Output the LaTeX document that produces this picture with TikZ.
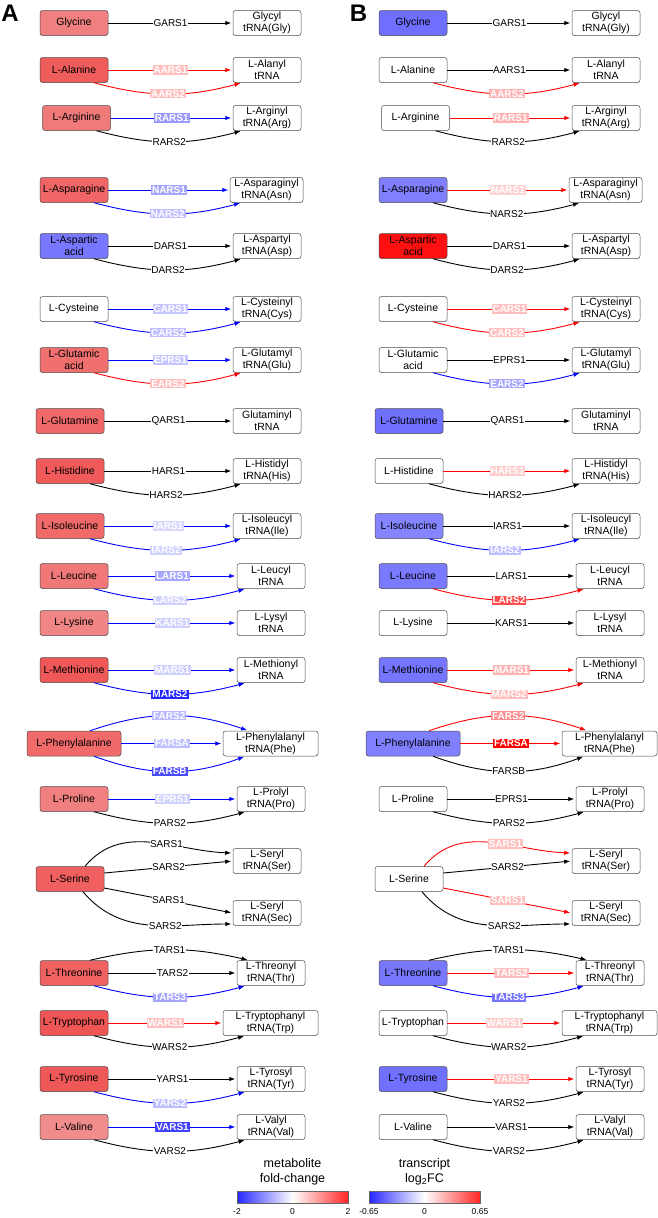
\documentclass[tikz,border=0pt]{standalone}
\usepackage{fontspec}
\setmainfont{Liberation Sans}
\usetikzlibrary{arrows.meta}
\newcommand\boxfont{\fontsize{10.5}{12}\selectfont}
\newcommand\lblfont{\fontsize{10}{11}\selectfont}
\newcommand\legfont{\fontsize{12.5}{15}\selectfont}
\newcommand\tickfont{\fontsize{8.5}{9}\selectfont}
\definecolor{cGlyA}{HTML}{F08080}
\definecolor{cAlaA}{HTML}{EE5C5C}
\definecolor{cArgA}{HTML}{F07A7A}
\definecolor{cAsnA}{HTML}{F06666}
\definecolor{cAspA}{HTML}{7777FF}
\definecolor{cGluA}{HTML}{F07070}
\definecolor{cGlnA}{HTML}{F06868}
\definecolor{cHisA}{HTML}{F05A5A}
\definecolor{cIleA}{HTML}{F06A6A}
\definecolor{cLeuA}{HTML}{F07878}
\definecolor{cLysA}{HTML}{F08585}
\definecolor{cMetA}{HTML}{EE5858}
\definecolor{cPheA}{HTML}{F06A6A}
\definecolor{cProA}{HTML}{F08080}
\definecolor{cSerA}{HTML}{F06060}
\definecolor{cThrA}{HTML}{F06262}
\definecolor{cTrpA}{HTML}{EE5555}
\definecolor{cTyrA}{HTML}{EE5858}
\definecolor{cValA}{HTML}{F08C8C}
\definecolor{cGlyB}{HTML}{6E6EFF}
\definecolor{cAsnB}{HTML}{8080FF}
\definecolor{cAspB}{HTML}{FF1010}
\definecolor{cGlnB}{HTML}{7070FF}
\definecolor{cIleB}{HTML}{8585FF}
\definecolor{cLeuB}{HTML}{7A7AFF}
\definecolor{cMetB}{HTML}{7575FF}
\definecolor{cPheB}{HTML}{8080FF}
\definecolor{cThrB}{HTML}{7878FF}
\definecolor{cTyrB}{HTML}{7070FF}
% straight edge: src, tgt, edge style, label style, text
\newcommand\EdgeS[5]{\draw[#3] (#1.east) -- node[#4]{#5} (#2.west);}
% lower curved edge
\newcommand\EdgeD[6]{\draw[#3] ([xshift=20pt]#1.south) to[bend right=#6] node[#4]{#5} ([xshift=-25pt]#2.south);}
% upper curved edge
\newcommand\EdgeU[6]{\draw[#3] ([xshift=16pt]#1.north) to[bend left=#6] node[#4]{#5} ([xshift=-22pt]#2.north);}
\begin{document}
\begin{tikzpicture}[x=1pt,y=-1pt,
  box/.style={draw=black!70, line width=0.5pt, rounded corners=2.5pt, minimum height=25pt, minimum width=68pt, inner sep=1pt, align=center, font=\boxfont, fill=white},
  ek/.style={draw=black, line width=0.9pt, -{Latex[length=6pt,width=4.5pt]}, shorten >=1.5pt},
  er/.style={ek, draw=red},
  eb/.style={ek, draw=blue},
  ln/.style={fill=white, inner xsep=0.5pt, inner ysep=0.8pt, font=\lblfont, text=black},
  lc/.style={fill=#1, inner xsep=1pt, inner ysep=1pt, font=\lblfont\bfseries, text=white},
  panel/.style={font=\fontsize{24}{24}\selectfont\bfseries},
  leg/.style={font=\legfont, align=center},
  cbar/.style={draw=black!60, line width=0.4pt, minimum width=111pt, minimum height=12pt, inner sep=0pt,
      left color=blue!85!white, right color=red!85!white, middle color=white},
  tick/.style={font=\tickfont}]
\useasboundingbox (0,0) rectangle (658,1218);

\node[panel] (pA) at (10,13) {A};
\node[panel] (pB) at (358.5,13) {B};

% ================= PANEL A =================
\node[box,fill=cGlyA] (aGly) at (74,23) {Glycine};
\node[box] (aGlyT) at (267,23) {Glycyl\\tRNA(Gly)};
\node[box,fill=cAlaA] (aAla) at (74,70) {L-Alanine};
\node[box] (aAlaT) at (267,70) {L-Alanyl\\tRNA};
\node[box,fill=cArgA] (aArg) at (76.5,118) {L-Arginine};
\node[box] (aArgT) at (267,118) {L-Arginyl\\tRNA(Arg)};
\node[box,fill=cAsnA] (aAsn) at (74,190) {L-Asparagine};
\node[box,minimum width=73pt] (aAsnT) at (266.5,190) {L-Asparaginyl\\tRNA(Asn)};
\node[box,fill=cAspA] (aAsp) at (74,246) {L-Aspartic\\acid};
\node[box] (aAspT) at (267,246) {L-Aspartyl\\tRNA(Asp)};
\node[box] (aCys) at (74,309) {L-Cysteine};
\node[box] (aCysT) at (267,309) {L-Cysteinyl\\tRNA(Cys)};
\node[box,fill=cGluA] (aGlu) at (74,360) {L-Glutamic\\acid};
\node[box] (aGluT) at (267,360) {L-Glutamyl\\tRNA(Glu)};
\node[box,fill=cGlnA] (aGln) at (70,421) {L-Glutamine};
\node[box] (aGlnT) at (267,421) {Glutaminyl\\tRNA};
\node[box,fill=cHisA] (aHis) at (70,471) {L-Histidine};
\node[box] (aHisT) at (267,471) {L-Histidyl\\tRNA(His)};
\node[box,fill=cIleA] (aIle) at (70,526) {L-Isoleucine};
\node[box] (aIleT) at (267,526) {L-Isoleucyl\\tRNA(Ile)};
\node[box,fill=cLeuA] (aLeu) at (74,576) {L-Leucine};
\node[box] (aLeuT) at (271,576) {L-Leucyl\\tRNA};
\node[box,fill=cLysA] (aLys) at (74,623) {L-Lysine};
\node[box] (aLysT) at (271,623) {L-Lysyl\\tRNA};
\node[box,fill=cMetA] (aMet) at (74,670) {L-Methionine};
\node[box] (aMetT) at (271,670) {L-Methionyl\\tRNA};
\node[box,fill=cPheA,minimum width=94pt] (aPhe) at (74,743.5) {L-Phenylalanine};
\node[box,minimum width=95pt] (aPheT) at (270.5,743.5) {L-Phenylalanyl\\tRNA(Phe)};
\node[box,fill=cProA] (aPro) at (74,799) {L-Proline};
\node[box] (aProT) at (271,799) {L-Prolyl\\tRNA(Pro)};
\node[box,fill=cSerA] (aSer) at (70,879) {L-Serine};
\node[box] (aSerT) at (267,861) {L-Seryl\\tRNA(Ser)};
\node[box] (aSecT) at (267,913) {L-Seryl\\tRNA(Sec)};
\node[box,fill=cThrA] (aThr) at (74,973) {L-Threonine};
\node[box] (aThrT) at (271,973) {L-Threonyl\\tRNA(Thr)};
\node[box,fill=cTrpA] (aTrp) at (74,1023) {L-Tryptophan};
\node[box,minimum width=95pt] (aTrpT) at (270.5,1023) {L-Tryptophanyl\\tRNA(Trp)};
\node[box,fill=cTyrA] (aTyr) at (74,1079) {L-Tyrosine};
\node[box] (aTyrT) at (271,1079) {L-Tyrosyl\\tRNA(Tyr)};
\node[box,fill=cValA] (aVal) at (74,1127) {L-Valine};
\node[box] (aValT) at (271,1127) {L-Valyl\\tRNA(Val)};

\EdgeS{aGly}{aGlyT}{ek}{ln}{GARS1}
\EdgeS{aAla}{aAlaT}{er}{lc=red!25}{AARS1}
\EdgeD{aAla}{aAlaT}{er}{lc=red!25}{AARS2}{15}
\EdgeS{aArg}{aArgT}{eb}{lc=blue!40}{RARS1}
\EdgeD{aArg}{aArgT}{ek}{ln}{RARS2}{15}
\EdgeS{aAsn}{aAsnT}{eb}{lc=blue!35}{NARS1}
\EdgeD{aAsn}{aAsnT}{eb}{lc=blue!25}{NARS2}{15}
\EdgeS{aAsp}{aAspT}{ek}{ln}{DARS1}
\EdgeD{aAsp}{aAspT}{ek}{ln}{DARS2}{15}
\EdgeS{aCys}{aCysT}{eb}{lc=blue!22}{CARS1}
\EdgeD{aCys}{aCysT}{eb}{lc=blue!25}{CARS2}{15}
\EdgeS{aGlu}{aGluT}{eb}{lc=blue!22}{EPRS1}
\EdgeD{aGlu}{aGluT}{er}{lc=red!25}{EARS2}{15}
\EdgeS{aGln}{aGlnT}{ek}{ln}{QARS1}
\EdgeS{aHis}{aHisT}{ek}{ln}{HARS1}
\EdgeD{aHis}{aHisT}{ek}{ln}{HARS2}{15}
\EdgeS{aIle}{aIleT}{eb}{lc=blue!15}{IARS1}
\EdgeD{aIle}{aIleT}{eb}{lc=blue!18}{IARS2}{15}
\EdgeS{aLeu}{aLeuT}{eb}{lc=blue!35}{LARS1}
\EdgeD{aLeu}{aLeuT}{eb}{lc=blue!18}{LARS2}{15}
\EdgeS{aLys}{aLysT}{eb}{lc=blue!18}{KARS1}
\EdgeS{aMet}{aMetT}{eb}{lc=blue!18}{MARS1}
\EdgeD{aMet}{aMetT}{eb}{lc=blue!85}{MARS2}{15}
\EdgeU{aPhe}{aPheT}{eb}{lc=blue!28}{FARS2}{19}
\EdgeS{aPhe}{aPheT}{eb}{lc=blue!25}{FARSA}
\EdgeD{aPhe}{aPheT}{eb}{lc=blue!70}{FARSB}{20}
\EdgeS{aPro}{aProT}{eb}{lc=blue!18}{EPRS1}
\EdgeD{aPro}{aProT}{ek}{ln}{PARS2}{15}
\draw[ek] ([xshift=15pt]aSer.north) to[out=50,in=178] node[ln,pos=0.6]{SARS1} ([yshift=8pt]aSerT.west);
\draw[ek] ([yshift=6pt]aSer.east) -- node[ln]{SARS2} (aSerT.west);
\draw[ek] ([yshift=-9pt]aSer.east) -- node[ln]{SARS1} (aSecT.west);
\draw[ek] ([xshift=13pt]aSer.south) to[out=-50,in=180] node[ln,pos=0.6]{SARS2} ([yshift=-11pt]aSecT.west);
\EdgeU{aThr}{aThrT}{ek}{ln}{TARS1}{13}
\EdgeS{aThr}{aThrT}{ek}{ln}{TARS2}
\EdgeD{aThr}{aThrT}{eb}{lc=blue!35}{TARS3}{15}
\EdgeS{aTrp}{aTrpT}{er}{lc=red!25}{WARS1}
\EdgeD{aTrp}{aTrpT}{ek}{ln}{WARS2}{15}
\EdgeS{aTyr}{aTyrT}{ek}{ln}{YARS1}
\EdgeD{aTyr}{aTyrT}{eb}{lc=blue!25}{YARS2}{15}
\EdgeS{aVal}{aValT}{eb}{lc=blue!75}{VARS1}
\EdgeD{aVal}{aValT}{ek}{ln}{VARS2}{15}

% ================= PANEL B =================
\begin{scope}[xshift=339pt]
\node[box,fill=cGlyB] (bGly) at (74,23) {Glycine};
\node[box] (bGlyT) at (267,23) {Glycyl\\tRNA(Gly)};
\node[box] (bAla) at (74,70) {L-Alanine};
\node[box] (bAlaT) at (267,70) {L-Alanyl\\tRNA};
\node[box] (bArg) at (76.5,118) {L-Arginine};
\node[box] (bArgT) at (267,118) {L-Arginyl\\tRNA(Arg)};
\node[box,fill=cAsnB] (bAsn) at (74,190) {L-Asparagine};
\node[box,minimum width=73pt] (bAsnT) at (266.5,190) {L-Asparaginyl\\tRNA(Asn)};
\node[box,fill=cAspB] (bAsp) at (74,246) {L-Aspartic\\acid};
\node[box] (bAspT) at (267,246) {L-Aspartyl\\tRNA(Asp)};
\node[box] (bCys) at (74,309) {L-Cysteine};
\node[box] (bCysT) at (267,309) {L-Cysteinyl\\tRNA(Cys)};
\node[box] (bGlu) at (74,360) {L-Glutamic\\acid};
\node[box] (bGluT) at (267,360) {L-Glutamyl\\tRNA(Glu)};
\node[box,fill=cGlnB] (bGln) at (70,421) {L-Glutamine};
\node[box] (bGlnT) at (267,421) {Glutaminyl\\tRNA};
\node[box] (bHis) at (70,471) {L-Histidine};
\node[box] (bHisT) at (267,471) {L-Histidyl\\tRNA(His)};
\node[box,fill=cIleB] (bIle) at (70,526) {L-Isoleucine};
\node[box] (bIleT) at (267,526) {L-Isoleucyl\\tRNA(Ile)};
\node[box,fill=cLeuB] (bLeu) at (74,576) {L-Leucine};
\node[box] (bLeuT) at (271,576) {L-Leucyl\\tRNA};
\node[box] (bLys) at (74,623) {L-Lysine};
\node[box] (bLysT) at (271,623) {L-Lysyl\\tRNA};
\node[box,fill=cMetB] (bMet) at (74,670) {L-Methionine};
\node[box] (bMetT) at (271,670) {L-Methionyl\\tRNA};
\node[box,fill=cPheB,minimum width=94pt] (bPhe) at (74,743.5) {L-Phenylalanine};
\node[box,minimum width=95pt] (bPheT) at (270.5,743.5) {L-Phenylalanyl\\tRNA(Phe)};
\node[box] (bPro) at (74,799) {L-Proline};
\node[box] (bProT) at (271,799) {L-Prolyl\\tRNA(Pro)};
\node[box] (bSer) at (70,879) {L-Serine};
\node[box] (bSerT) at (267,861) {L-Seryl\\tRNA(Ser)};
\node[box] (bSecT) at (267,913) {L-Seryl\\tRNA(Sec)};
\node[box,fill=cThrB] (bThr) at (74,973) {L-Threonine};
\node[box] (bThrT) at (271,973) {L-Threonyl\\tRNA(Thr)};
\node[box] (bTrp) at (74,1023) {L-Tryptophan};
\node[box,minimum width=95pt] (bTrpT) at (270.5,1023) {L-Tryptophanyl\\tRNA(Trp)};
\node[box,fill=cTyrB] (bTyr) at (74,1079) {L-Tyrosine};
\node[box] (bTyrT) at (271,1079) {L-Tyrosyl\\tRNA(Tyr)};
\node[box] (bVal) at (74,1127) {L-Valine};
\node[box] (bValT) at (271,1127) {L-Valyl\\tRNA(Val)};
\end{scope}

\EdgeS{bGly}{bGlyT}{ek}{ln}{GARS1}
\EdgeS{bAla}{bAlaT}{ek}{ln}{AARS1}
\EdgeD{bAla}{bAlaT}{er}{lc=red!30}{AARS2}{15}
\EdgeS{bArg}{bArgT}{er}{lc=red!30}{RARS1}
\EdgeD{bArg}{bArgT}{ek}{ln}{RARS2}{15}
\EdgeS{bAsn}{bAsnT}{er}{lc=red!18}{NARS1}
\EdgeD{bAsn}{bAsnT}{ek}{ln}{NARS2}{15}
\EdgeS{bAsp}{bAspT}{ek}{ln}{DARS1}
\EdgeD{bAsp}{bAspT}{ek}{ln}{DARS2}{15}
\EdgeS{bCys}{bCysT}{er}{lc=red!25}{CARS1}
\EdgeD{bCys}{bCysT}{er}{lc=red!25}{CARS2}{15}
\EdgeS{bGlu}{bGluT}{ek}{ln}{EPRS1}
\EdgeD{bGlu}{bGluT}{eb}{lc=blue!35}{EARS2}{15}
\EdgeS{bGln}{bGlnT}{ek}{ln}{QARS1}
\EdgeS{bHis}{bHisT}{er}{lc=red!20}{HARS1}
\EdgeD{bHis}{bHisT}{ek}{ln}{HARS2}{15}
\EdgeS{bIle}{bIleT}{ek}{ln}{IARS1}
\EdgeD{bIle}{bIleT}{eb}{lc=blue!25}{IARS2}{15}
\EdgeS{bLeu}{bLeuT}{ek}{ln}{LARS1}
\EdgeD{bLeu}{bLeuT}{er}{lc=red!70}{LARS2}{15}
\EdgeS{bLys}{bLysT}{ek}{ln}{KARS1}
\EdgeS{bMet}{bMetT}{er}{lc=red!30}{MARS1}
\EdgeD{bMet}{bMetT}{er}{lc=red!25}{MARS2}{15}
\EdgeU{bPhe}{bPheT}{er}{lc=red!45}{FARS2}{19}
\EdgeS{bPhe}{bPheT}{er}{lc=red}{FARSA}
\EdgeD{bPhe}{bPheT}{ek}{ln}{FARSB}{20}
\EdgeS{bPro}{bProT}{ek}{ln}{EPRS1}
\EdgeD{bPro}{bProT}{ek}{ln}{PARS2}{15}
\draw[er] ([xshift=15pt]bSer.north) to[out=50,in=178] node[lc=red!25,pos=0.6]{SARS1} ([yshift=8pt]bSerT.west);
\draw[ek] ([yshift=6pt]bSer.east) -- node[ln]{SARS2} (bSerT.west);
\draw[er] ([yshift=-9pt]bSer.east) -- node[lc=red!25]{SARS1} (bSecT.west);
\draw[ek] ([xshift=13pt]bSer.south) to[out=-50,in=180] node[ln,pos=0.6]{SARS2} ([yshift=-11pt]bSecT.west);
\EdgeU{bThr}{bThrT}{ek}{ln}{TARS1}{13}
\EdgeS{bThr}{bThrT}{er}{lc=red!25}{TARS2}
\EdgeD{bThr}{bThrT}{eb}{lc=blue!55}{TARS3}{15}
\EdgeS{bTrp}{bTrpT}{er}{lc=red!20}{WARS1}
\EdgeD{bTrp}{bTrpT}{ek}{ln}{WARS2}{15}
\EdgeS{bTyr}{bTyrT}{er}{lc=red!25}{YARS1}
\EdgeD{bTyr}{bTyrT}{ek}{ln}{YARS2}{15}
\EdgeS{bVal}{bValT}{ek}{ln}{VARS1}
\EdgeD{bVal}{bValT}{ek}{ln}{VARS2}{15}

% ================= LEGEND =================
\node[leg] (lgA) at (292.5,1172) {metabolite\\fold-change};
\node[leg] (lgB) at (424.5,1172) {transcript\\log\textsubscript{2}FC};
\node[cbar] (barA) at (292.5,1197) {};
\node[cbar] (barB) at (424.5,1197) {};
\node[tick] (tA1) at (237,1212) {-2};
\node[tick] (tA2) at (292.5,1212) {0};
\node[tick] (tA3) at (348,1212) {2};
\node[tick] (tB1) at (369,1212) {-0.65};
\node[tick] (tB2) at (424.5,1212) {0};
\node[tick] (tB3) at (480,1212) {0.65};
\end{tikzpicture}
\end{document}
